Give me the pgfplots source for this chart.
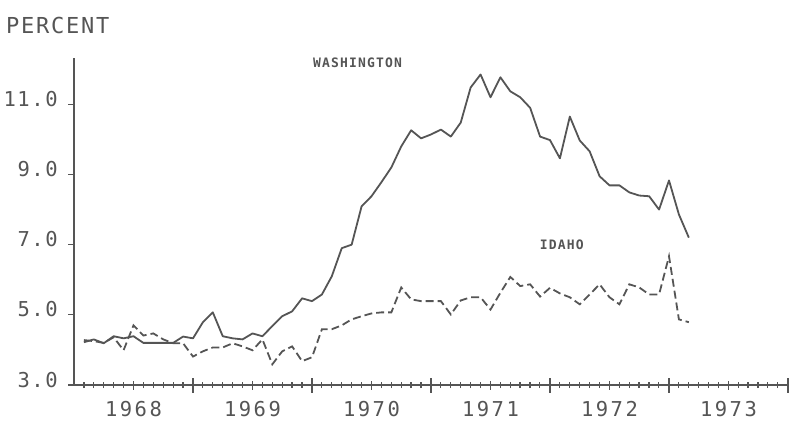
\documentclass[border=0pt]{standalone}
\usepackage{fontspec}
\usepackage{pgfplots}
\usepackage{pgfplotstable}
\pgfplotsset{compat=1.18}
\newfontfamily\plotfont[LetterSpace=8]{DejaVu Sans Mono}
\newfontfamily\yearfont[LetterSpace=12]{DejaVu Sans Mono}
\newfontfamily\tagfont[LetterSpace=9]{DejaVu Sans Mono Bold}
\definecolor{ink}{RGB}{85,85,85}

% month index (1 = Jan 1968), Washington, Idaho
\pgfplotstableread{
m  wa     id
1  4.22   4.28
2  4.30   4.25
3  4.19   4.20
4  4.39   4.36
5  4.33   3.99
6  4.39   4.70
7  4.20   4.41
8  4.20   4.47
9  4.20   4.30
10 4.20   4.19
11 4.38   4.19
12 4.33   3.81
13 4.79   3.96
14 5.07   4.07
15 4.39   4.07
16 4.33   4.19
17 4.30   4.10
18 4.47   3.99
19 4.39   4.30
20 4.68   3.59
21 4.96   3.96
22 5.10   4.10
23 5.47   3.68
24 5.39   3.79
25 5.58   4.59
26 6.10   4.59
27 6.90   4.70
28 7.00   4.87
29 8.09   4.96
30 8.38   5.04
31 8.78   5.07
32 9.20   5.07
33 9.80   5.78
34 10.26  5.44
35 10.03  5.39
36 10.14  5.39
37 10.28  5.39
38 10.08  5.01
39 10.48  5.41
40 11.48  5.50
41 11.85  5.50
42 11.20  5.15
43 11.77  5.63
44 11.37  6.08
45 11.20  5.82
46 10.90  5.87
47 10.08  5.52
48 9.98   5.77
49 9.46   5.61
50 10.65  5.50
51 9.97   5.30
52 9.66   5.58
53 8.95   5.87
54 8.69   5.50
55 8.69   5.30
56 8.49   5.87
57 8.40   5.78
58 8.38   5.58
59 8.00   5.58
60 8.83   6.67
61 7.86   4.87
62 7.20   4.79
}\ratedata

\begin{document}
\begin{tikzpicture}[x=1pt,y=1pt]
\path (0,0) rectangle (801,429);
\node[anchor=west, inner sep=0pt, text=ink, font=\fontsize{22}{26}\selectfont\plotfont] at (6,404) {PERCENT};
\begin{axis}[
  at={(74pt,44pt)}, anchor=south west,
  scale only axis,
  width=714pt, height=327pt,
  xmin=1968, xmax=1974,
  ymin=3, ymax=12.32,
  axis x line=bottom, axis y line=left,
  axis line style={-, ink, line width=1.2pt},
  every tick/.style={ink, line width=1.2pt},
  xtick={1968.5,1969.5,1970.5,1971.5,1972.5,1973.5},
  xticklabels={1968,1969,1970,1971,1972,1973},
  minor xtick={1968.0833333,1968.1666667,...,1974},
  extra x ticks={1969,1970,1971,1972,1973,1974},
  extra x tick labels={},
  extra x tick style={major tick length=15pt, tick align=center},
  tick align=center,
  major tick length=9pt,
  minor tick length=6pt,
  xticklabel style={font=\fontsize{20.5}{24}\selectfont\yearfont, text=ink, anchor=north, inner sep=0pt, yshift=-12pt},
  ytick=\empty,
  extra y ticks={3,5,7,9,11},
  extra y tick labels={3.0,5.0,7.0,9.0,11.0},
  extra y tick style={major tick length=6pt, tick align=outside},
  yticklabel style={font=\fontsize{20.5}{24}\selectfont\plotfont, text=ink, anchor=base east, inner sep=0pt, yshift=-2pt, xshift=-10pt},
]
\addplot[ink, line width=1.8pt, line join=round] table[x expr=1968+\thisrow{m}/12, y=wa] {\ratedata};
\addplot[ink, line width=1.8pt, dash pattern=on 8pt off 4pt] table[x expr=1968+\thisrow{m}/12, y=id] {\ratedata};
\node[text=ink, font=\fontsize{13}{15}\selectfont\tagfont] at (axis cs:1970.382,12.17) {WASHINGTON};
\node[text=ink, font=\fontsize{13}{15}\selectfont\tagfont] at (axis cs:1972.10,6.99) {IDAHO};
\end{axis}
\end{tikzpicture}
\end{document}
